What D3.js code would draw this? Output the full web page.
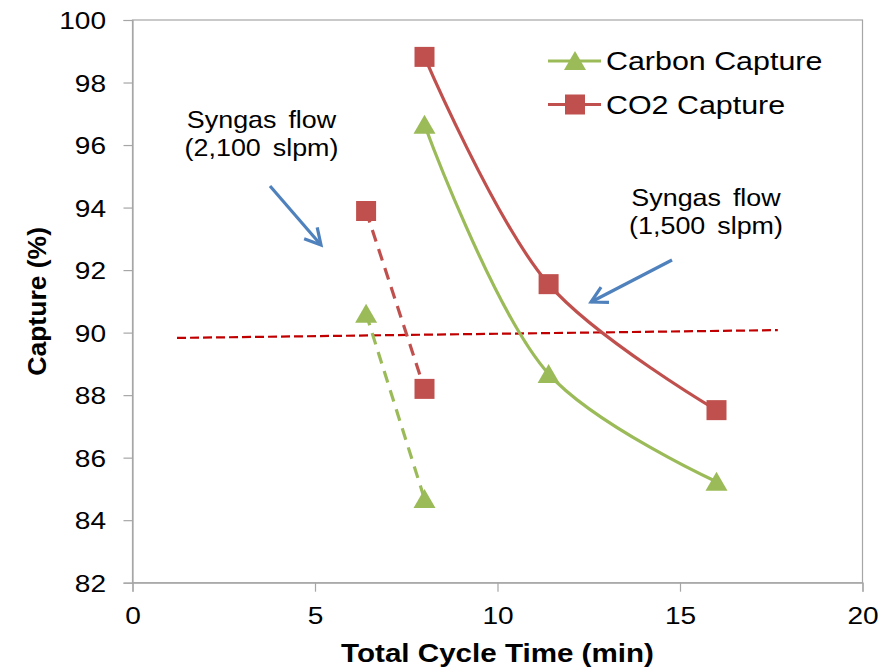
<!DOCTYPE html>
<html><head><meta charset="utf-8">
<script src="https://cdn.jsdelivr.net/npm/d3@7"></script>
<style>body{margin:0;background:#fff;}text{font-family:"Liberation Sans",Arial,sans-serif;}</style>
</head><body>
<svg id="chart" width="895" height="668"></svg>
<script>
// Data
const carbon1500 = [[8, 96.65], [11.4, 88.68], [16, 85.23]];
const co21500 = [[8, 98.82], [11.4, 91.55], [16, 87.52]];
const carbon2100 = [[6.4, 90.6], [8, 84.68]];
const co22100 = [[6.4, 93.89], [8, 88.2]];
const refLine = [[1.22, 89.83], [17.68, 90.08]];
const xTicks = [0, 5, 10, 15, 20];
const yTicks = [82, 84, 86, 88, 90, 92, 94, 96, 98, 100];
const seriesNames = ["Carbon Capture", "CO2 Capture"];
const noteLeft = ["Syngas flow", "(2,100 slpm)"];
const noteRight = ["Syngas flow", "(1,500 slpm)"];

const green = "#9BBB59", red = "#C0504D", blue = "#4F81BD", dred = "#C00000";
const SX = 1.17; // horizontal stretch of the original picture's text
const svg = d3.select("#chart");
const x = d3.scaleLinear().domain([0, 20]).range([132.5, 862.5]);
const y = d3.scaleLinear().domain([82, 100]).range([582.7, 20]);

// plot box
svg.append("rect").attr("x", x(0)).attr("y", y(100)).attr("width", x(20) - x(0)).attr("height", y(82) - y(100))
  .attr("fill", "none").attr("stroke", "#a6a6a6").attr("stroke-width", 1.2);

const yAxis = svg.append("g").attr("transform", `translate(${x(0)},0)`)
  .call(d3.axisLeft(y).tickValues(yTicks).tickSize(9));
const xAxis = svg.append("g").attr("transform", `translate(0,${y(82)})`)
  .call(d3.axisBottom(x).tickValues(xTicks).tickSize(9));
[yAxis, xAxis].forEach(a => {
  a.select(".domain").attr("stroke", "#a6a6a6").attr("stroke-width", 1.2);
  a.selectAll(".tick line").attr("stroke", "#a6a6a6").attr("stroke-width", 1.2);
  a.selectAll(".tick text").attr("font-size", 24).attr("fill", "#000").attr("font-family", "Liberation Sans, Arial, sans-serif");
});
yAxis.selectAll(".tick text").attr("x", 0).attr("dy", "0.36em").attr("transform", `translate(-26.5,0) scale(${SX},1)`);
xAxis.selectAll(".tick text").attr("y", 0).attr("dy", "0.71em").attr("transform", `translate(0,24) scale(${SX},1)`);

// axis titles
svg.append("text").attr("transform", `translate(${x(10)},662) scale(${SX - 0.01},1)`).attr("text-anchor", "middle")
  .attr("font-size", 25.5).attr("font-weight", "bold").text("Total Cycle Time (min)");
svg.append("text").attr("transform", `translate(46,${(y(100) + y(82)) / 2}) rotate(-90)`).attr("text-anchor", "middle")
  .attr("font-size", 26.5).attr("font-weight", "bold").text("Capture (%)");

// reference dashed line
svg.append("path").datum(refLine).attr("d", d3.line().x(d => x(d[0])).y(d => y(d[1])))
  .attr("fill", "none").attr("stroke", dred).attr("stroke-width", 2.2).attr("stroke-dasharray", "9,4");

const smooth = d3.line().x(d => x(d[0])).y(d => y(d[1])).curve(d3.curveCatmullRom.alpha(0.5));
const straight = d3.line().x(d => x(d[0])).y(d => y(d[1]));

function drawSeries(data, color, dashed, marker) {
  svg.append("path").datum(data).attr("d", dashed ? straight : smooth)
    .attr("fill", "none").attr("stroke", color).attr("stroke-width", 3.2)
    .attr("stroke-dasharray", dashed ? "12,8" : null);
  drawMarkers(data, color, marker);
}
function drawMarkers(data, color, marker) {
  const g = svg.append("g");
  data.forEach(d => {
    if (marker === "tri") {
      g.append("path").attr("d", `M0,-10 L11,9 L-11,9 Z`).attr("transform", `translate(${x(d[0])},${y(d[1])})`).attr("fill", color);
    } else {
      g.append("rect").attr("x", x(d[0]) - 10).attr("y", y(d[1]) - 10).attr("width", 20).attr("height", 20).attr("fill", color);
    }
  });
}
drawSeries(carbon2100, green, true, "tri");
drawSeries(co22100, red, true, "sq");
drawSeries(carbon1500, green, false, "tri");
drawSeries(co21500, red, false, "sq");

// arrows
function arrow(x1, y1, x2, y2) {
  svg.append("line").attr("x1", x1).attr("y1", y1).attr("x2", x2).attr("y2", y2)
    .attr("stroke", blue).attr("stroke-width", 3.2);
  const ang = Math.atan2(y2 - y1, x2 - x1);
  const L = 18, w = 0.5;
  const p1 = [x2 - L * Math.cos(ang - w), y2 - L * Math.sin(ang - w)];
  const p2 = [x2 - L * Math.cos(ang + w), y2 - L * Math.sin(ang + w)];
  svg.append("path").attr("d", `M${p1} L${x2},${y2} L${p2}`).attr("fill", "none")
    .attr("stroke", blue).attr("stroke-width", 3.2).attr("stroke-linejoin", "miter");
}
arrow(270, 186, 321, 245);
arrow(672, 260, 591, 302);

// annotations
function note(cx, cy, lines) {
  lines.forEach((t, i) => svg.append("text").attr("transform", `translate(${cx},${cy + i * 28}) scale(1.12,1)`)
    .attr("text-anchor", "middle").attr("font-size", 24).attr("word-spacing", 4).text(t));
}
note(261.5, 128, noteLeft);
note(706, 205.5, noteRight);

// legend
const leg = svg.append("g");
[["tri", green, 61], ["sq", red, 104.5]].forEach((l, i) => {
  leg.append("line").attr("x1", 548).attr("x2", 601).attr("y1", l[2]).attr("y2", l[2]).attr("stroke", l[1]).attr("stroke-width", 3.2);
  if (l[0] === "tri") leg.append("path").attr("d", `M0,-10 L11,9 L-11,9 Z`).attr("transform", `translate(575,${l[2]})`).attr("fill", l[1]);
  else leg.append("rect").attr("x", 565).attr("y", l[2] - 10).attr("width", 20).attr("height", 20).attr("fill", l[1]);
  leg.append("text").attr("transform", `translate(606,${l[2] + 9}) scale(${SX},1)`).attr("font-size", 26).text(seriesNames[i]);
});
</script>
</body></html>
